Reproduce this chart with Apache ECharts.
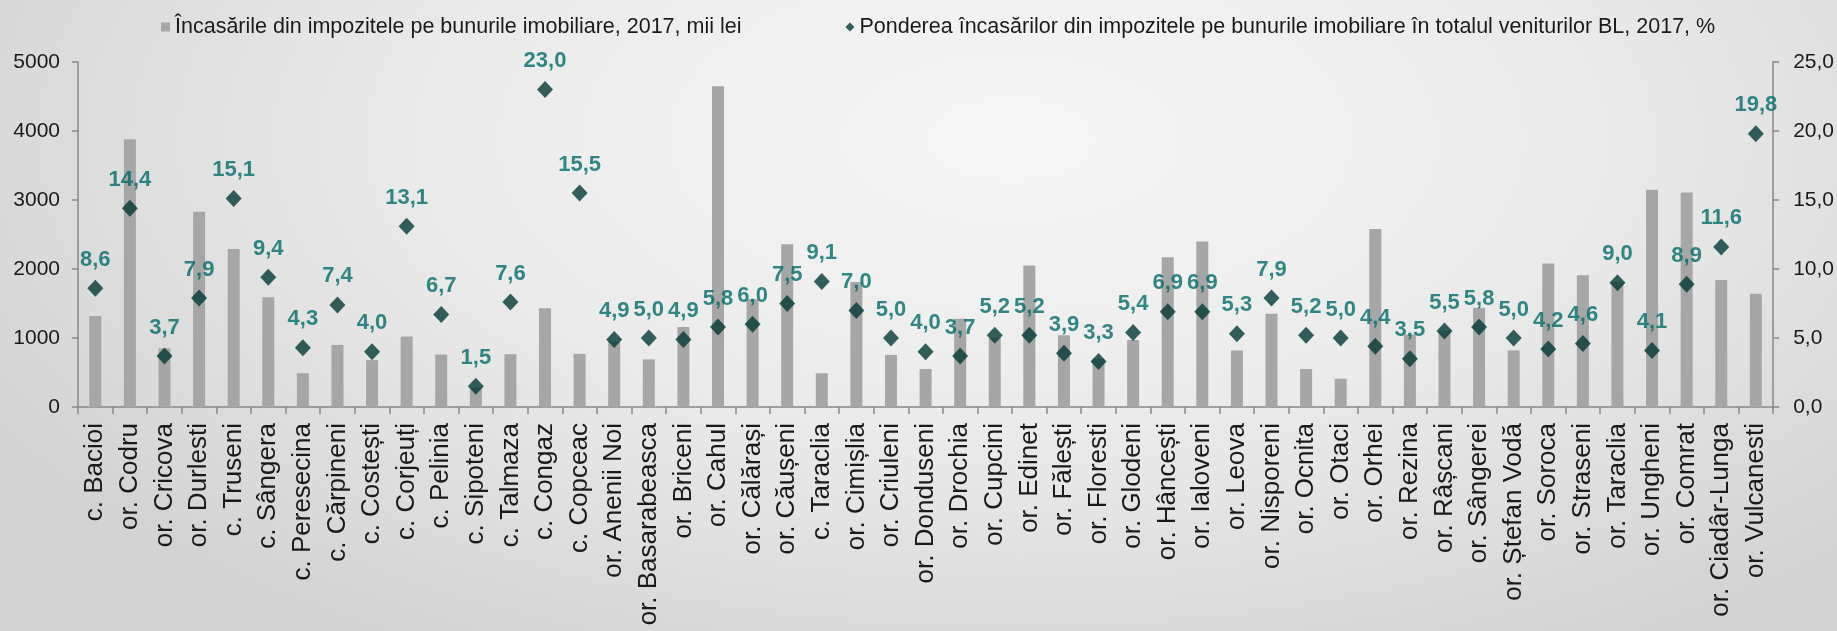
<!DOCTYPE html>
<html>
<head>
<meta charset="utf-8">
<script src="https://cdn.jsdelivr.net/npm/echarts@6/dist/echarts.min.js"></script>
<style>
html,body{margin:0;padding:0;}
#chart{width:1837px;height:631px;background:radial-gradient(ellipse 65% 95% at 55% 22%, #f7f7f7 0%, #eaeaea 50%, #d2d2d2 100%);}
</style>
</head>
<body>
<div id="chart"></div>
<script>
const categories = [
  "c. Bacioi","or. Codru","or. Cricova","or. Durlesti","c. Truseni","c. Sângera","c. Peresecina",
  "c. Cărpineni","c. Costești","c. Corjeuți","c. Pelinia","c. Sipoteni","c. Talmaza","c. Congaz",
  "c. Copceac","or. Anenii Noi","or. Basarabeasca","or. Briceni","or. Cahul","or. Călărași","or. Căușeni",
  "c. Taraclia","or. Cimișlia","or. Criuleni","or. Donduseni","or. Drochia","or. Cupcini","or. Edinet",
  "or. Fălești","or. Floresti","or. Glodeni","or. Hâncești","or. Ialoveni","or. Leova","or. Nisporeni",
  "or. Ocnita","or. Otaci","or. Orhei","or. Rezina","or. Râșcani","or. Sângerei","or. Ștefan Vodă",
  "or. Soroca","or. Straseni","or. Taraclia","or. Ungheni","or. Comrat","or. Ciadâr-Lunga","or. Vulcanesti"
];
// Încasările din impozitele pe bunurile imobiliare, 2017, mii lei
const revenue = [
  1320,3880,850,2830,2290,1590,490,
  900,680,1020,760,280,765,1430,
  770,950,690,1160,4650,1560,2360,
  490,1810,755,550,1280,1000,2050,
  1040,700,970,2170,2400,820,1350,
  550,410,2580,1050,1100,1440,820,
  2080,1910,1810,3150,3110,1840,1640
];
// Ponderea ... în totalul veniturilor BL, 2017, %
const share = [
  8.6,14.4,3.7,7.9,15.1,9.4,4.3,
  7.4,4.0,13.1,6.7,1.5,7.6,23.0,
  15.5,4.9,5.0,4.9,5.8,6.0,7.5,
  9.1,7.0,5.0,4.0,3.7,5.2,5.2,
  3.9,3.3,5.4,6.9,6.9,5.3,7.9,
  5.2,5.0,4.4,3.5,5.5,5.8,5.0,
  4.2,4.6,9.0,4.1,8.9,11.6,19.8
];
const seriesNames = [
  "Încasările din impozitele pe bunurile imobiliare, 2017, mii lei",
  "Ponderea încasărilor din impozitele pe bunurile imobiliare în totalul veniturilor BL, 2017, %"
];
const leftAxis = {min: 0, max: 5000, interval: 1000};
const rightAxis = {min: 0, max: 25, interval: 5};

const FONT = "Liberation Sans, Arial, sans-serif";
const chart = echarts.init(document.getElementById('chart'), null, {renderer: 'canvas'});
const axisLineStyle = {color: '#888888', width: 1.5};
chart.setOption({
  backgroundColor: 'transparent',
  animation: false,
  textStyle: {fontFamily: FONT},
  legend: {
    top: 11,
    left: 156,
    itemGap: 104,
    itemWidth: 9,
    itemHeight: 9,
    textStyle: {fontSize: 21.5, color: '#1a1a1a', fontFamily: FONT},
    data: [
      {name: seriesNames[0], icon: 'rect'},
      {name: seriesNames[1], icon: 'diamond'}
    ]
  },
  grid: {left: 78, right: 62, top: 62, bottom: 224, containLabel: false},
  xAxis: {
    type: 'category',
    data: categories,
    boundaryGap: true,
    axisLine: {lineStyle: axisLineStyle},
    axisTick: {show: true, length: 7, lineStyle: axisLineStyle},
    axisLabel: {interval: 0, rotate: 90, fontSize: 26, color: '#1a1a1a', margin: 16, fontFamily: FONT}
  },
  yAxis: [
    {
      type: 'value', min: leftAxis.min, max: leftAxis.max, interval: leftAxis.interval,
      position: 'left',
      splitLine: {show: false},
      axisLine: {show: true, lineStyle: axisLineStyle},
      axisTick: {show: true, length: 6, lineStyle: axisLineStyle},
      axisLabel: {fontSize: 21, color: '#1a1a1a', margin: 18, fontFamily: FONT,
        formatter: v => String(v)}
    },
    {
      type: 'value', min: rightAxis.min, max: rightAxis.max, interval: rightAxis.interval,
      position: 'right',
      splitLine: {show: false},
      axisLine: {show: true, lineStyle: axisLineStyle},
      axisTick: {show: true, length: 6, lineStyle: axisLineStyle},
      axisLabel: {fontSize: 21, color: '#1a1a1a', margin: 20, fontFamily: FONT,
        formatter: v => v.toFixed(1).replace('.', ',')}
    }
  ],
  series: [
    {
      name: seriesNames[0],
      type: 'bar',
      yAxisIndex: 0,
      data: revenue,
      barWidth: 12,
      itemStyle: {color: '#a6a6a6'}
    },
    {
      name: seriesNames[1],
      type: 'scatter',
      yAxisIndex: 1,
      data: share,
      symbol: 'diamond',
      symbolSize: [16, 17],
      itemStyle: {color: '#013a34'},
      label: {
        show: true,
        position: 'top',
        distance: 9,
        fontSize: 22,
        fontWeight: 'bold',
        color: '#006b67',
        fontFamily: FONT,
        formatter: p => p.value.toFixed(1).replace('.', ',')
      }
    }
  ]
});
</script>
</body>
</html>
